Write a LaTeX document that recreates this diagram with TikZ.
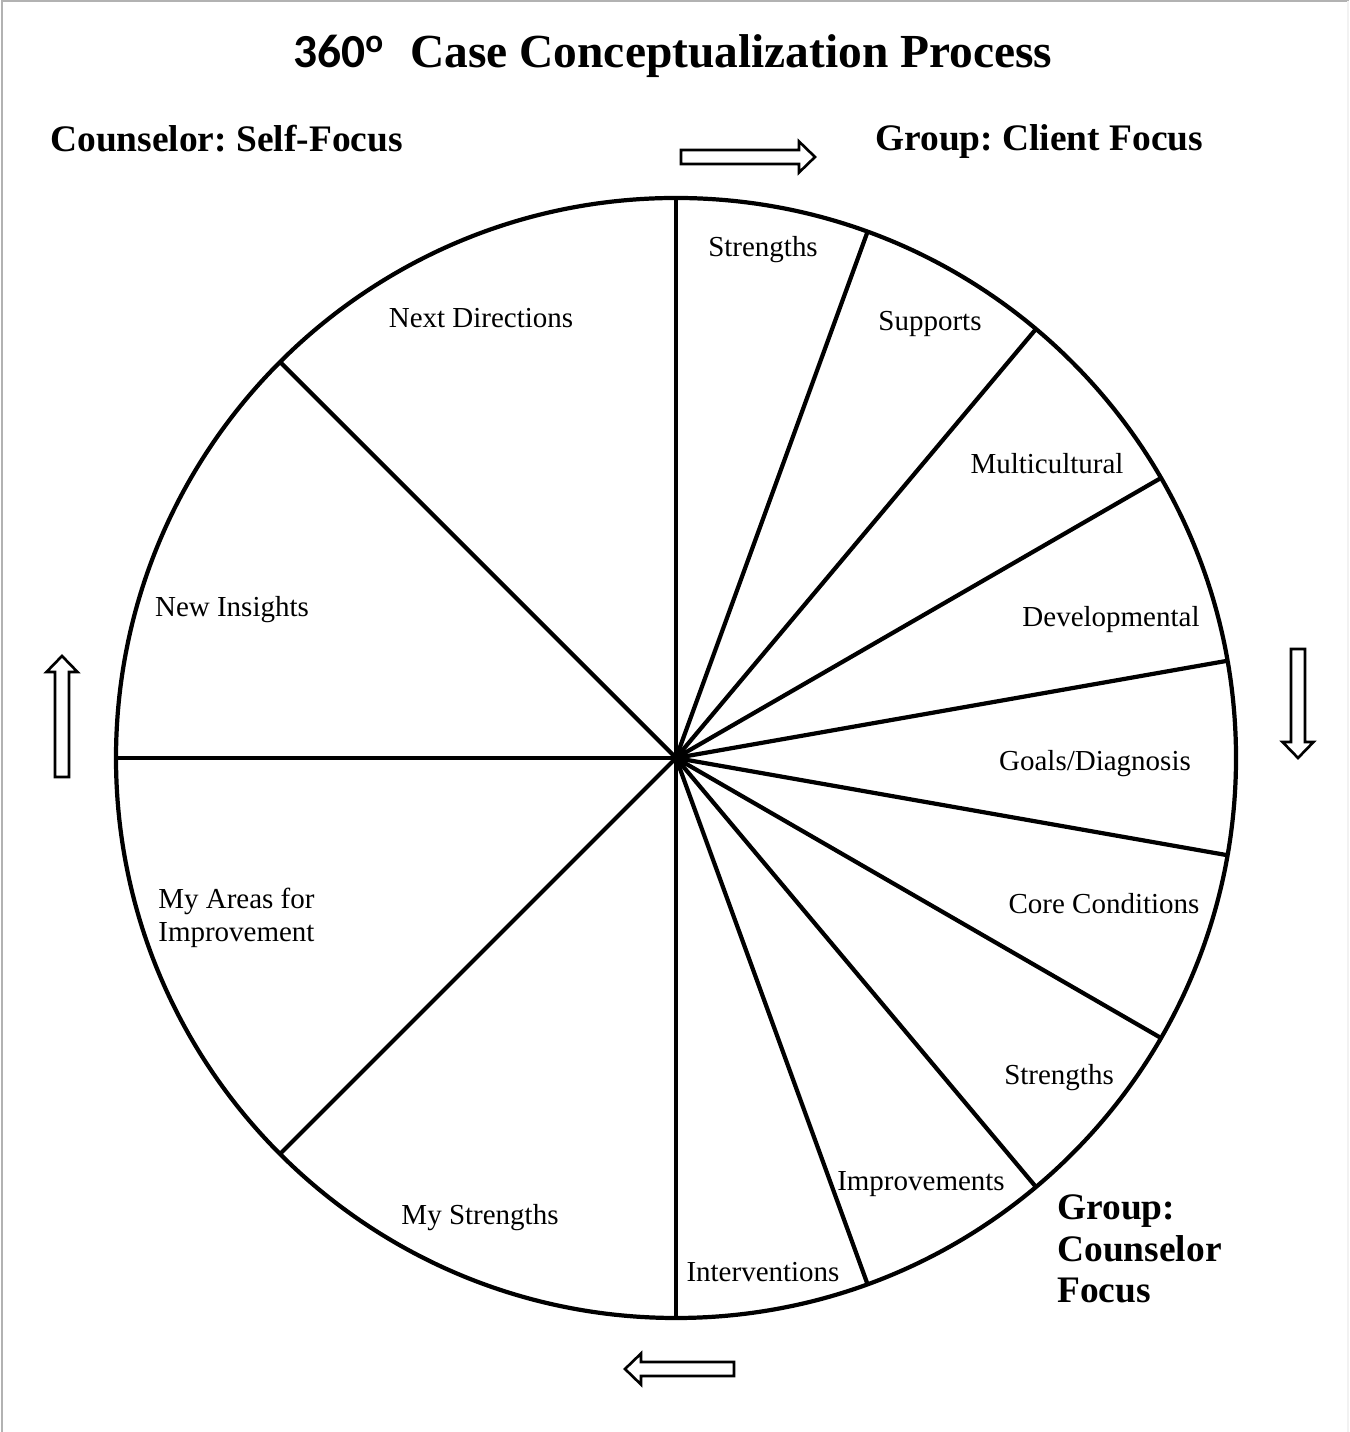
\documentclass[tikz,border=0pt]{standalone}
\usepackage{fontspec}
\setmainfont{Liberation Serif}
\newfontfamily\calibrifont{Carlito}
\usepackage{tikz}
\frenchspacing

\tikzset{
  wheel/.style={line width=2.4pt},
  wedgelabel/.style={font=\fontsize{16.5}{19}\selectfont, inner sep=0pt},
  sidetitle/.style={font=\fontsize{21.3}{23.6}\selectfont\bfseries, inner sep=0pt},
  pics/hollow arrow/.style={code={
    \draw[line width=1.5pt, fill=white] (0,-7) -- (#1-16,-7) -- (#1-16,-15.5)
      -- (#1,0) -- (#1-16,15.5) -- (#1-16,7) -- (0,7) -- cycle;
  }}
}

\begin{document}
\begin{tikzpicture}[x=0.02cm, y=0.02cm]
        \useasboundingbox (0,0) rectangle (1349,1432);
        \draw[gray!60, line width=1.2pt] (2,0) -- (2,1431) -- (1349,1431); % frame
        \draw[gray!10, line width=0.8pt] (1348,1431) -- (1348,0);

        % title and side headings
        \node[anchor=base west, inner sep=0pt, font=\fontsize{27}{30}\selectfont\bfseries] (title)
          at (293,1364) {{\calibrifont 360\textsuperscript{o}}\hspace{0.55em}Case Conceptualization Process};
        \node[sidetitle, anchor=base west] (selffocus) at (50,1280) {Counselor: Self-Focus};
        \node[sidetitle, anchor=base west] (clientfocus) at (875,1281) {Group: Client Focus};
        \node[sidetitle, anchor=west, align=left] (counselorfocus) at (1057,183) {Group:\\Counselor\\Focus};

        % wheel
        \coordinate (O) at (676,674);
        \draw[wheel] (O) circle (560);
        \draw[wheel] (O) -- ++(90:560); % vertical diameter
        \draw[wheel] (O) -- ++(-90:560);
        \foreach \a in {70,50,...,-70}
          \draw[wheel] (O) -- ++(\a:560); % client side spokes
        \foreach \a in {135,180,225}
          \draw[wheel] (O) -- ++(\a:560); % self side spokes

        % client / counselor wedges
        \node[wedgelabel] (strengthsA) at (763,1182) {Strengths};
        \node[wedgelabel] (supports) at (930,1108) {Supports};
        \node[wedgelabel] (multicult) at (1047,968) {Multicultural};
        \node[wedgelabel] (develop) at (1111,812) {Developmental};
        \node[wedgelabel] (goals) at (1095,668) {Goals/Diagnosis};
        \node[wedgelabel] (core) at (1104,528) {Core Conditions};
        \node[wedgelabel] (strengthsB) at (1059,354) {Strengths};
        \node[wedgelabel] (improve) at (921,248) {Improvements};
        \node[wedgelabel] (interv) at (763,160) {Interventions};

        % self wedges
        \node[wedgelabel] (nextdir) at (481,1114) {Next Directions};
        \node[wedgelabel] (insights) at (232,822) {New Insights};
        \node[wedgelabel, anchor=west, align=left] (areas) at (158,514) {My Areas for\\Improvement};
        \node[wedgelabel] (mystrengths) at (480,214) {My Strengths};

        % direction arrows
        \pic at (681,1275) {hollow arrow=134};
        \pic[rotate=-90] at (1298,783) {hollow arrow=109};
        \pic[rotate=180] at (734,63) {hollow arrow=109};
        \pic[rotate=90] at (62,655) {hollow arrow=121};
      \end{tikzpicture}
\end{document}
